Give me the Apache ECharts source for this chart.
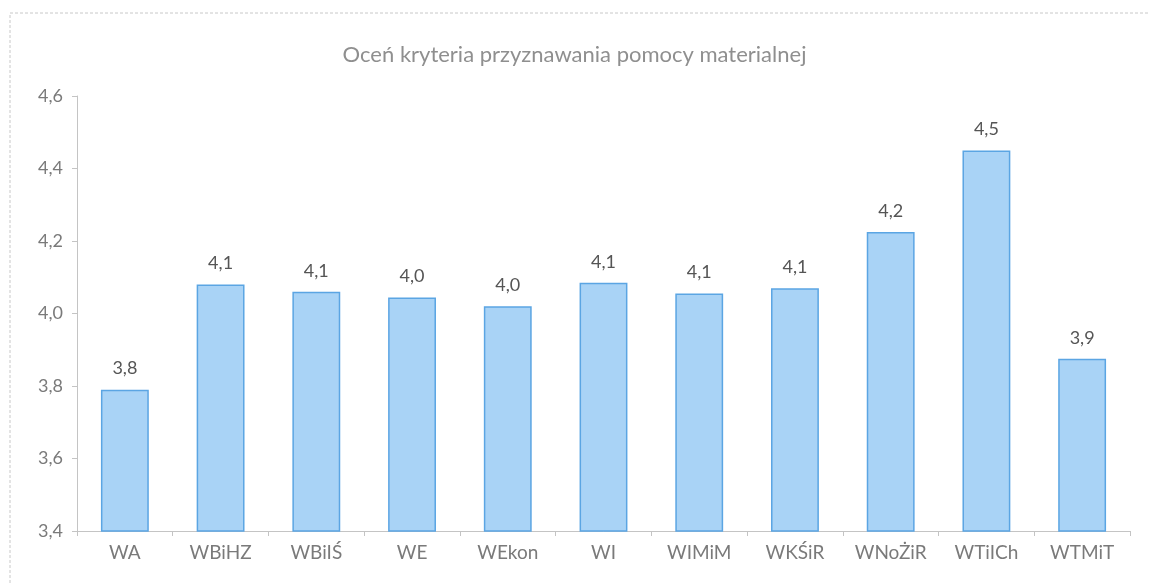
<!DOCTYPE html>
<html>
<head>
<meta charset="utf-8">
<script src="https://cdn.jsdelivr.net/npm/echarts@6/dist/echarts.min.js"></script>
<style>
  html, body { margin: 0; padding: 0; background: #fff; }
  #chart { width: 1149px; height: 584px; }
</style>
</head>
<body>
<div id="chart"></div>
<script>
const titleText = 'Oceń kryteria przyznawania pomocy materialnej'
const categories = ['WA', 'WBiHZ', 'WBiIŚ', 'WE', 'WEkon', 'WI', 'WIMiM', 'WKŚiR', 'WNoŻiR', 'WTiICh', 'WTMiT']
const values = [3.79, 4.08, 4.06, 4.044, 4.02, 4.085, 4.055, 4.07, 4.225, 4.45, 3.875]
const yMin = 3.4
const yMax = 4.6
const yStep = 0.2

const fmt = v => v.toFixed(1).replace('.', ',')

var myChart = echarts.init(document.getElementById('chart'))
const option = {
    animation: false,
    textStyle: { fontFamily: 'Lato' },
    title: {
        text: titleText,
        left: 'center',
        top: 39,
        textStyle: { color: '#8f8f8f', fontSize: 22, fontWeight: 'normal', fontFamily: 'Lato' }
    },
    graphic: [{
        type: 'rect',
        shape: { x: 10, y: 13, width: 1160, height: 600 },
        style: { fill: 'none', stroke: '#c8c8c8', lineWidth: 1, lineDash: [3, 2] },
        silent: true
    }],
    grid: { left: 77, right: 19, top: 96, bottom: 53 },
    xAxis: {
        type: 'category',
        data: categories,
        axisLine: { lineStyle: { color: '#c4c4c4' } },
        axisTick: { show: true, length: 5, lineStyle: { color: '#c4c4c4' } },
        axisLabel: { color: '#7a7a7a', fontSize: 19, margin: 12 }
    },
    yAxis: {
        type: 'value',
        min: yMin,
        max: yMax,
        interval: yStep,
        axisLine: { show: true, lineStyle: { color: '#c4c4c4' } },
        axisTick: { show: true, length: 5, lineStyle: { color: '#c4c4c4' } },
        splitLine: { show: false },
        axisLabel: { color: '#7a7a7a', fontSize: 18, margin: 14, formatter: fmt }
    },
    series: [{
        type: 'bar',
        data: values,
        barWidth: '50%',
        itemStyle: { color: '#a9d3f6', borderColor: '#5ba5e3', borderWidth: 1.5 },
        label: {
            show: true,
            position: 'top',
            distance: 12,
            color: '#555',
            fontSize: 18,
            formatter: p => fmt(p.value)
        }
    }]
}
option && myChart.setOption(option)
</script>
</body>
</html>
